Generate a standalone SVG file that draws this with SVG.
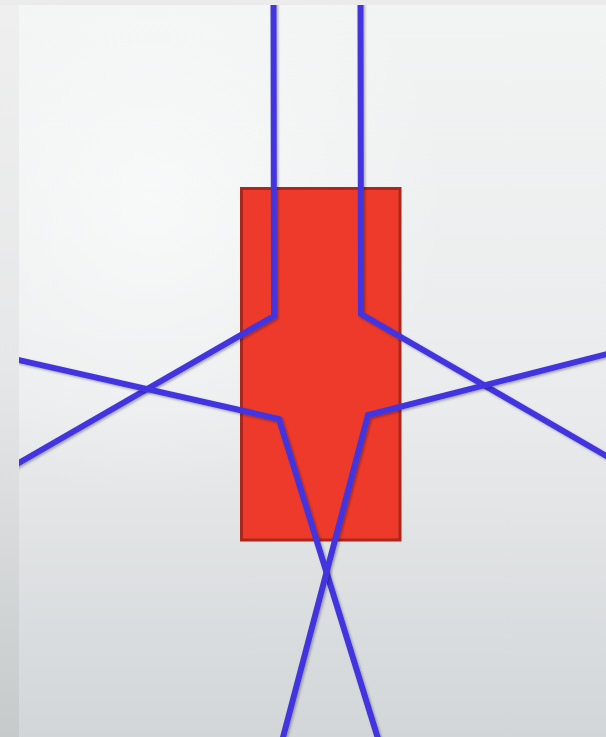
<svg xmlns="http://www.w3.org/2000/svg" width="606" height="737" viewBox="0 0 606 737">
  <style>
    .wire { fill: none; stroke: #4336e0; stroke-width: 6; stroke-linejoin: miter; filter: url(#sh); }
    .block { fill: #ee3a2a; stroke: #ab271d; stroke-width: 3; }
  </style>
  <defs>
    <linearGradient id="strip" x1="0" y1="0" x2="0" y2="1">
      <stop offset="0" stop-color="#efefef"/>
      <stop offset="0.5" stop-color="#e6e7e8"/>
      <stop offset="1" stop-color="#c6cacb"/>
    </linearGradient>
    <linearGradient id="panel" x1="0" y1="0" x2="0" y2="1">
      <stop offset="0" stop-color="#f2f3f3"/>
      <stop offset="0.55" stop-color="#eaebec"/>
      <stop offset="1" stop-color="#d2d6d8"/>
    </linearGradient>
    <radialGradient id="glow" cx="150" cy="200" r="300" gradientUnits="userSpaceOnUse">
      <stop offset="0" stop-color="#fafbfb" stop-opacity="0.8"/>
      <stop offset="1" stop-color="#fafbfb" stop-opacity="0"/>
    </radialGradient>
    <clipPath id="clip">
      <rect x="19" y="5" width="587" height="732"/>
    </clipPath>
    <filter id="sh" x="-10%" y="-10%" width="120%" height="120%">
      <feDropShadow dx="1.5" dy="1.5" stdDeviation="1.2" flood-color="#000" flood-opacity="0.3"/>
    </filter>
  </defs>
  <rect x="0" y="0" width="606" height="737" fill="url(#strip)"/>
  <rect x="0" y="0" width="606" height="5" fill="#ebebeb"/>
  <rect x="19" y="5" width="587" height="732" fill="url(#panel)"/>
  <rect x="19" y="5" width="587" height="732" fill="url(#glow)"/>
  <g id="block">
    <rect class="block" x="241.5" y="188.5" width="158.5" height="351.5"/>
  </g>
  <g id="connectors" clip-path="url(#clip)">
    <path class="wire" d="M273.5,0 L274,316 L10,468"/>
    <path class="wire" d="M360.5,0 L361,314 L615,461"/>
    <path class="wire" d="M10,358 L279,419 L380,745"/>
    <path class="wire" d="M615,352 L368,415 L281,745"/>
  </g>
</svg>
